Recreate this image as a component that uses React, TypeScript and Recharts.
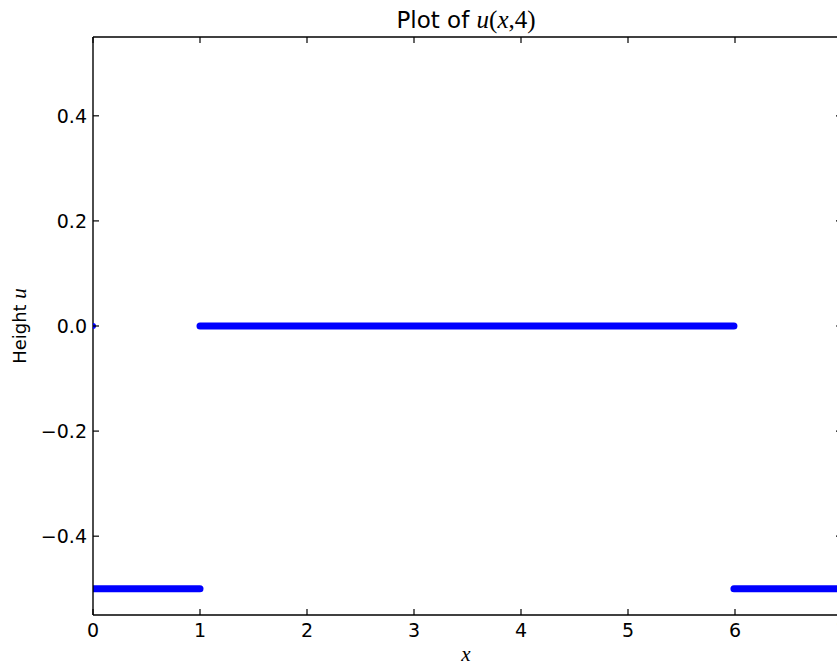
import React from 'react';
import { ComposedChart, Line, Scatter, XAxis, YAxis } from 'recharts';

// u(x,4): piecewise constant pieces
const segmentLeft = [
    { x: 0, u: -0.5 },
    { x: 1, u: -0.5 },
];
const segmentMiddle = [
    { x: 1, u: 0 },
    { x: 5.99, u: 0 },
];
const segmentRight = [
    { x: 5.99, u: -0.5 },
    { x: 7, u: -0.5 },
];
const boundaryPoints = [
    { x: 0, u: 0 },
    { x: 7, u: 0 },
];

const xTicks = [0, 1, 2, 3, 4, 5, 6, 7];
const yTicks = [-0.4, -0.2, 0, 0.2, 0.4];

const BLUE = '#0000ff';
const SANS = '"DejaVu Sans", sans-serif';
const MATH = '"Liberation Serif", serif';
const TICK_LEN = 6;
const TICK_FONT = 19;

const fmtY = (v: number) => (v < 0 ? '\u2212' + Math.abs(v).toFixed(1) : v.toFixed(1));

const LeftTick = (props: any) => {
    const { x, y, payload } = props;
    return (
        <g>
            <line x1={x} y1={y} x2={x + TICK_LEN} y2={y} stroke="#000" strokeWidth={1.2} />
            <text x={x - 6} y={y + 7} textAnchor="end" fontFamily={SANS} fontSize={TICK_FONT} fill="#000">
                {fmtY(payload.value)}
            </text>
        </g>
    );
};

const RightTick = (props: any) => {
    const { x, y } = props;
    return <line x1={x} y1={y} x2={x - TICK_LEN} y2={y} stroke="#000" strokeWidth={1.2} />;
};

const BottomTick = (props: any) => {
    const { x, y, payload } = props;
    return (
        <g>
            <line x1={x} y1={y} x2={x} y2={y - TICK_LEN} stroke="#000" strokeWidth={1.2} />
            <text x={x} y={y + 22} textAnchor="middle" fontFamily={SANS} fontSize={TICK_FONT} fill="#000">
                {payload.value}
            </text>
        </g>
    );
};

const TopTick = (props: any) => {
    const { x, y } = props;
    return <line x1={x} y1={y} x2={x} y2={y + TICK_LEN} stroke="#000" strokeWidth={1.2} />;
};

const Dot = (props: any) => <circle cx={props.cx} cy={props.cy} r={3} fill={BLUE} />;

export default function App() {
    return (
        <div
            style={{
                position: 'absolute',
                left: 0,
                top: 0,
                width: 837,
                height: 665,
                overflow: 'hidden',
                background: '#fff',
            }}
        >
            <ComposedChart width={900} height={665} margin={{ top: 36, right: 57, bottom: 20, left: 0 }}>
                <XAxis
                    dataKey="x"
                    type="number"
                    domain={[0, 7]}
                    ticks={xTicks}
                    interval={0}
                    allowDataOverflow
                    height={30}
                    tickLine={false}
                    tickSize={0}
                    tickMargin={0}
                    tick={<BottomTick />}
                    axisLine={{ stroke: '#000', strokeWidth: 1.4 }}
                />
                <XAxis
                    xAxisId="top"
                    orientation="top"
                    dataKey="x"
                    type="number"
                    domain={[0, 7]}
                    ticks={xTicks}
                    interval={0}
                    allowDataOverflow
                    height={1}
                    tickLine={false}
                    tickSize={0}
                    tickMargin={0}
                    tick={<TopTick />}
                    axisLine={{ stroke: '#000', strokeWidth: 1.4 }}
                />
                <YAxis
                    dataKey="u"
                    type="number"
                    domain={[-0.55, 0.55]}
                    ticks={yTicks}
                    interval={0}
                    allowDataOverflow
                    width={93}
                    tickLine={false}
                    tickSize={0}
                    tickMargin={0}
                    tick={<LeftTick />}
                    axisLine={{ stroke: '#000', strokeWidth: 1.4 }}
                />
                <YAxis
                    yAxisId="right"
                    orientation="right"
                    dataKey="u"
                    type="number"
                    domain={[-0.55, 0.55]}
                    ticks={yTicks}
                    interval={0}
                    allowDataOverflow
                    width={1}
                    tickLine={false}
                    tickSize={0}
                    tickMargin={0}
                    tick={<RightTick />}
                    axisLine={{ stroke: '#000', strokeWidth: 1.4 }}
                />
                <Line data={segmentLeft} dataKey="u" type="linear" stroke={BLUE} strokeWidth={7}
                    strokeLinecap="round" dot={false} isAnimationActive={false} />
                <Line data={segmentMiddle} dataKey="u" type="linear" stroke={BLUE} strokeWidth={7}
                    strokeLinecap="round" dot={false} isAnimationActive={false} />
                <Line data={segmentRight} dataKey="u" type="linear" stroke={BLUE} strokeWidth={7}
                    strokeLinecap="round" dot={false} isAnimationActive={false} />
                <Scatter xAxisId="top" yAxisId="right" data={boundaryPoints} dataKey="u" fill={BLUE}
                    shape={<Dot />} isAnimationActive={false} />
            </ComposedChart>
            <svg width={837} height={665} style={{ position: 'absolute', left: 0, top: 0, pointerEvents: 'none' }}>
                <text x={466} y={28} textAnchor="middle" fontSize={23} fill="#000">
                    <tspan fontFamily={SANS}>Plot of </tspan>
                    <tspan fontFamily={MATH} fontStyle="italic" fontSize={25}>u</tspan>
                    <tspan fontFamily={MATH} fontSize={25}>(</tspan>
                    <tspan fontFamily={MATH} fontStyle="italic" fontSize={25}>x</tspan>
                    <tspan fontFamily={MATH} fontSize={25}>,4)</tspan>
                </text>
                <text x={466} y={661} textAnchor="middle" fontFamily={MATH} fontStyle="italic" fontSize={21} fill="#000">
                    x
                </text>
                <text x={26} y={326} textAnchor="middle" transform="rotate(-90, 26, 326)" fontSize={18} fill="#000">
                    <tspan fontFamily={SANS}>Height </tspan>
                    <tspan fontFamily={MATH} fontStyle="italic" fontSize={21}>u</tspan>
                </text>
            </svg>
        </div>
    );
}
